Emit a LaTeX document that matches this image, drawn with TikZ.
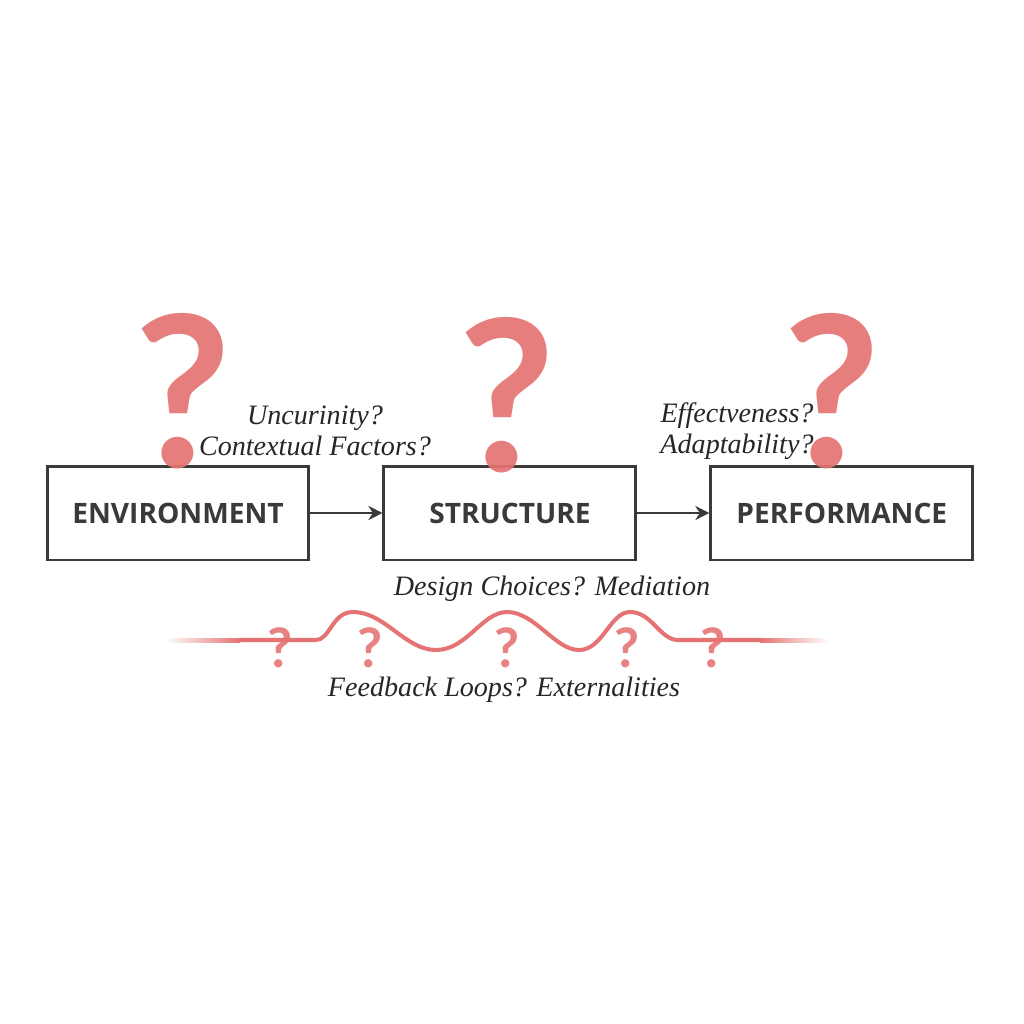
\documentclass[tikz,border=0pt]{standalone}
\usepackage{fontspec}
\setmainfont{Liberation Serif}
\newfontfamily\boxfont{Open Sans}
\newfontfamily\qfont{Lato}
\usetikzlibrary{positioning,arrows.meta}
\definecolor{qred}{HTML}{E57373}
\definecolor{boxgray}{HTML}{3A3A3A}
\tikzstyle{stage} = [rectangle, minimum width=5.24cm, minimum height=1.88cm, draw=boxgray, line width=1.7pt, fill=white, text=boxgray, font=\boxfont\bfseries\fontsize{16}{18}\selectfont]
\tikzstyle{bigq} = [anchor=base, text=qred, text opacity=0.92, inner sep=0, text depth=0pt, font=\qfont\bfseries\fontsize{120}{120}\selectfont]
\tikzstyle{smallq} = [anchor=base, text=qred, text opacity=0.9, inner sep=0, text depth=0pt, font=\qfont\bfseries\fontsize{31}{31}\selectfont]
\tikzstyle{query} = [align=center, text=black!85, font=\itshape\fontsize{16}{18}\selectfont]
\tikzstyle{arrow} = [line width=1.7pt, draw=boxgray, -{Stealth[length=8pt, width=8pt]}]

\begin{document}
\begin{tikzpicture}[x=0.02cm, y=-0.02cm, node distance=1.44cm]
\useasboundingbox (0,0) rectangle (1024,1024);

\node (env) [stage] at (178,513) {ENVIRONMENT};
\node (struct) [stage, right=of env, minimum width=5.04cm] {STRUCTURE};
\node (perf) [stage, right=of struct] {PERFORMANCE};

\draw [arrow] (env) -- (struct);
\draw [arrow] (struct) -- (perf);

\node (qEnv) [bigq] at (183,467) {?};
\node (qStruct) [bigq] at (507,471) {?};
\node (qPerf) [bigq] at (832,467) {?};

\node (envQuery) [query] at (315,431) {Uncurinity?\\ Contextual Factors?};
\node (perfQuery) [query] at (737,431) {Effectveness?\\ Adaptability?};
\node (designQuery) [query] at (552,589) {Design Choices? Mediation};
\node (feedbackQuery) [query] at (504,690) {Feedback Loops? Externalities};

% the wavy feedback line
\shade [left color=white, right color=qred] (165,638) rectangle (240,642);
\shade [left color=qred, right color=white] (760,638) rectangle (828,642);
\draw [qred, line width=2.3pt, line cap=round] (240,640) -- (316,640)
  .. controls (330,640) and (332,612) .. (353,612)
  .. controls (385,612) and (405,650) .. (436,650)
  .. controls (467,650) and (482,612) .. (507,612)
  .. controls (535,612) and (555,650) .. (579,650)
  .. controls (603,650) and (610,612) .. (630,612)
  .. controls (652,612) and (660,640) .. (678,640) -- (760,640);

\foreach \qx [count=\n] in {280,370,507,627,713}
  \node (smallQ\n) [smallq] at (\qx,667) {?};

\end{tikzpicture}
\end{document}
